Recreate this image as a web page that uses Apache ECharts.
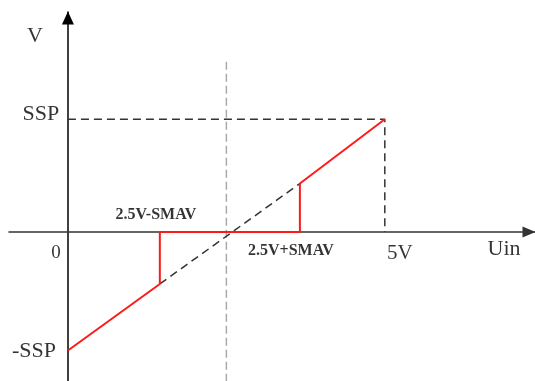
<!DOCTYPE html>
<html lang="en">
<head>
  <meta charset="UTF-8">
  <title>Uin - V</title>
  <script src="https://cdn.jsdelivr.net/npm/echarts@6/dist/echarts.min.js"></script>
  <style>
    html, body { margin: 0; padding: 0; background: #fff; }
  </style>
</head>
<body>
  <div id="main" style="width:535px;height:381px;"></div>
  <script type="text/javascript">
    // Uin in volts, V in units of SSP
    var redLine = [[0, -1.05], [1.45, -0.46], [1.45, 0], [3.66, 0], [3.66, 0.43], [5, 1]];
    var idealLine = [[1.45, -0.46], [3.66, 0.43]];
    var sspGuide = [[0, 1], [5, 1], [5, 0]];
    var midGuide = [[2.5, 1.51], [2.5, -1.32]];

    // text, anchor point, offset
    var labelTexts = ['V', 'SSP', '0', '-SSP', '5V', 'Uin', '2.5V-SMAV', '2.5V+SMAV'];
    var labelAnchors = [[0, 1.95], [0, 1], [0, 0], [0, -1.05], [5, 0], [7.37, 0], [1.45, 0], [3.66, 0]];

    var serif = "'Liberation Serif', 'Times New Roman', serif";
    var offsets = [[-33, 24], [-27, -5], [-12, 21], [-34, 1], [15, 21], [-31, 17], [-4, -17], [-9, 19]];
    var sizes = [22, 22, 19, 22, 21, 22, 16, 16];

    var labelData = labelTexts.map(function (t, i) {
      return {
        value: labelAnchors[i],
        label: {
          show: true,
          position: 'inside',
          formatter: t,
          offset: offsets[i],
          fontSize: sizes[i],
          fontWeight: i >= 6 ? 'bold' : 'normal',
          fontFamily: serif,
          color: '#000'
        }
      };
    });

    var myChart = echarts.init(document.getElementById('main'));

    var option = {
      animation: false,
      grid: { left: 9, right: 0, top: 12, bottom: 0 },
      xAxis: {
        type: 'value',
        min: -0.93,
        max: 7.37,
        splitLine: { show: false },
        axisTick: { show: false },
        axisLabel: { show: false },
        axisLine: {
          onZero: true,
          symbol: ['none', 'triangle'],
          symbolSize: [11, 13],
          symbolOffset: [0, -6],
          lineStyle: { color: '#333', width: 1.5 }
        }
      },
      yAxis: {
        type: 'value',
        min: -1.32,
        max: 1.95,
        splitLine: { show: false },
        axisTick: { show: false },
        axisLabel: { show: false },
        axisLine: {
          onZero: true,
          symbol: ['none', 'triangle'],
          symbolSize: [12, 13],
          symbolOffset: [0, -6],
          lineStyle: { color: '#000', width: 1.5 }
        }
      },
      series: [
        {
          type: 'line',
          data: midGuide,
          symbol: 'none',
          lineStyle: { color: '#aaa', width: 1.5, type: [8, 4] }
        },
        {
          type: 'line',
          data: sspGuide,
          symbol: 'none',
          lineStyle: { color: '#333', width: 1.5, type: [8, 5] }
        },
        {
          type: 'line',
          data: idealLine,
          symbol: 'none',
          lineStyle: { color: '#333', width: 1.5, type: [8, 5] }
        },
        {
          type: 'line',
          data: redLine,
          symbol: 'none',
          lineStyle: { color: '#ff1a1a', width: 2 }
        },
        {
          type: 'scatter',
          symbolSize: 0,
          data: labelData,
          silent: true
        }
      ]
    };

    myChart.setOption(option);
  </script>
</body>
</html>
